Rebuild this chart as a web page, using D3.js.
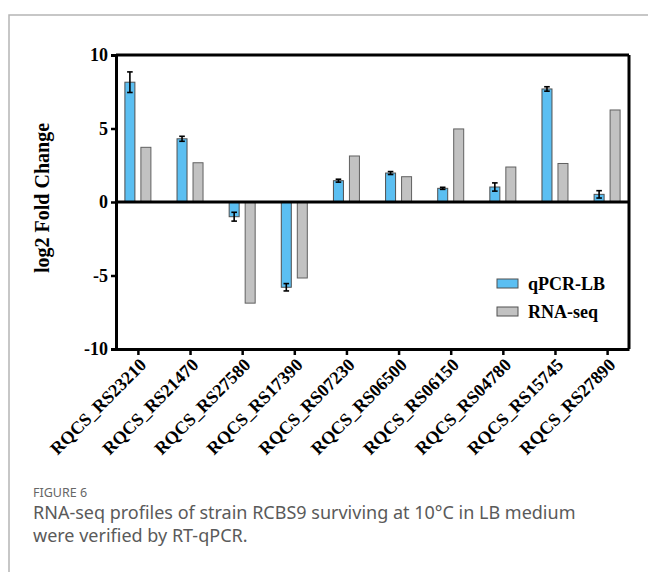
<!DOCTYPE html>
<html>
<head>
<meta charset="utf-8">
<script src="https://cdn.jsdelivr.net/npm/d3@7"></script>
<style>
  body { margin: 0; background: #fff; }
  svg { display: block; }
</style>
</head>
<body>
<svg id="chart" width="648" height="572"></svg>
<script>
const genes = ["RQCS_RS23210", "RQCS_RS21470", "RQCS_RS27580", "RQCS_RS17390", "RQCS_RS07230",
    "RQCS_RS06500", "RQCS_RS06150", "RQCS_RS04780", "RQCS_RS15745", "RQCS_RS27890"];
const qpcr = [8.15, 4.3, -1.0, -5.8, 1.45, 1.97, 0.93, 1.02, 7.69, 0.52];
const qpcrErr = [0.7, 0.17, 0.3, 0.25, 0.1, 0.1, 0.07, 0.28, 0.15, 0.25];
const rnaseq = [3.72, 2.67, -6.88, -5.17, 3.13, 1.72, 4.97, 2.38, 2.62, 6.26];
const yTicks = [10, 5, 0, -5, -10];
const seriesNames = ["qPCR-LB", "RNA-seq"];
const seriesColors = ["#5bbff2", "#c2c2c2"];

const svg = d3.select("#chart");
const serif = "'Liberation Serif', 'Times New Roman', serif";

// card frame
svg.append("path")
    .attr("d", "M9,575 V15 H660")
    .attr("fill", "none")
    .attr("stroke", "#b5b5b5")
    .attr("stroke-width", 1.5);

const margin = { left: 116, right: 629, top: 55, bottom: 349 };

const x = d3.scalePoint()
    .domain(genes)
    .range([margin.left, margin.right])
    .padding(0.42);

const y = d3.scaleLinear()
    .domain([-10, 10])
    .range([margin.bottom, margin.top]);

const barW = 10;
const gap = 3;

// bars
const g = svg.append("g");
g.selectAll("rect.q")
    .data(genes)
    .join("rect")
    .attr("class", "q")
    .attr("x", d => x(d) - gap - barW)
    .attr("width", barW)
    .attr("y", (d, i) => y(Math.max(0, qpcr[i])))
    .attr("height", (d, i) => Math.abs(y(qpcr[i]) - y(0)))
    .attr("fill", seriesColors[0])
    .attr("stroke", "#505050")
    .attr("stroke-width", 1);

g.selectAll("rect.r")
    .data(genes)
    .join("rect")
    .attr("class", "r")
    .attr("x", d => x(d) + gap)
    .attr("width", barW)
    .attr("y", (d, i) => y(Math.max(0, rnaseq[i])))
    .attr("height", (d, i) => Math.abs(y(rnaseq[i]) - y(0)))
    .attr("fill", seriesColors[1])
    .attr("stroke", "#606060")
    .attr("stroke-width", 1);

// error bars
const eb = g.selectAll("g.err")
    .data(genes)
    .join("g")
    .attr("class", "err")
    .attr("stroke", "#000")
    .attr("stroke-width", 1.6);
eb.append("line")
    .attr("x1", d => x(d) - gap - barW / 2)
    .attr("x2", d => x(d) - gap - barW / 2)
    .attr("y1", (d, i) => y(qpcr[i] + qpcrErr[i]))
    .attr("y2", (d, i) => y(qpcr[i] - qpcrErr[i]));
[1, -1].forEach(s => {
    eb.append("line")
        .attr("x1", d => x(d) - gap - barW / 2 - 2.8)
        .attr("x2", d => x(d) - gap - barW / 2 + 2.8)
        .attr("y1", (d, i) => y(qpcr[i] + s * qpcrErr[i]))
        .attr("y2", (d, i) => y(qpcr[i] + s * qpcrErr[i]));
});

// frame lines
const axisStroke = 3;
svg.append("line")
    .attr("x1", margin.left).attr("x2", margin.right)
    .attr("y1", margin.top).attr("y2", margin.top)
    .attr("stroke", "#000").attr("stroke-width", axisStroke);
svg.append("line")
    .attr("x1", margin.right).attr("x2", margin.right)
    .attr("y1", margin.top).attr("y2", margin.bottom)
    .attr("stroke", "#000").attr("stroke-width", axisStroke);
svg.append("line")
    .attr("x1", margin.left).attr("x2", margin.right)
    .attr("y1", y(0)).attr("y2", y(0))
    .attr("stroke", "#000").attr("stroke-width", axisStroke);

// y axis
const yAxis = svg.append("g")
    .attr("transform", `translate(${margin.left},0)`)
    .call(d3.axisLeft(y).tickValues(yTicks).tickSize(5).tickPadding(3).tickFormat(d => String(d)));
yAxis.select(".domain").attr("stroke-width", axisStroke);
yAxis.selectAll(".tick line").attr("stroke-width", 2.5);
yAxis.selectAll("text")
    .attr("font-family", serif)
    .attr("font-weight", "bold")
    .attr("font-size", "18px")
    .attr("fill", "#000");

// x axis
const xAxis = svg.append("g")
    .attr("transform", `translate(0,${margin.bottom})`)
    .call(d3.axisBottom(x).tickSize(6).tickSizeOuter(0));
xAxis.select(".domain").attr("stroke-width", axisStroke);
xAxis.selectAll(".tick line").attr("stroke-width", 2.5);
xAxis.selectAll("text")
    .attr("font-family", serif)
    .attr("font-weight", "bold")
    .attr("font-size", "18px")
    .attr("fill", "#000")
    .attr("text-anchor", "end")
    .attr("dy", 0)
    .attr("y", 0)
    .attr("transform", "translate(9,17) rotate(-45)");

// y label
svg.append("text")
    .attr("transform", "translate(49,198) rotate(-90)")
    .attr("text-anchor", "middle")
    .attr("font-family", serif)
    .attr("font-weight", "bold")
    .attr("font-size", "20px")
    .text("log2 Fold Change");

// legend
const legend = svg.append("g").attr("transform", "translate(497,279)");
seriesNames.forEach((name, i) => {
    legend.append("rect")
        .attr("x", 0)
        .attr("y", i * 28)
        .attr("width", 21)
        .attr("height", 9)
        .attr("fill", seriesColors[i])
        .attr("stroke", "#505050")
        .attr("stroke-width", 1);
    legend.append("text")
        .attr("x", 31)
        .attr("y", i * 28 + 11)
        .attr("font-family", serif)
        .attr("font-weight", "bold")
        .attr("font-size", "18px")
        .text(name);
});

// caption
svg.append("text")
    .attr("x", 33)
    .attr("y", 497)
    .attr("font-family", "'Noto Sans', 'Open Sans', sans-serif")
    .attr("font-size", "12.5px")
    .attr("fill", "#666")
    .text("FIGURE 6");
const cap = svg.append("text")
    .attr("font-family", "'Noto Sans', 'Open Sans', sans-serif")
    .attr("font-size", "18px")
    .attr("fill", "#5a5a5a");
cap.append("tspan").attr("x", 33).attr("y", 519)
    .text("RNA-seq profiles of strain RCBS9 surviving at 10°C in LB medium");
cap.append("tspan").attr("x", 33).attr("y", 542)
    .text("were verified by RT-qPCR.");
</script>
</body>
</html>
